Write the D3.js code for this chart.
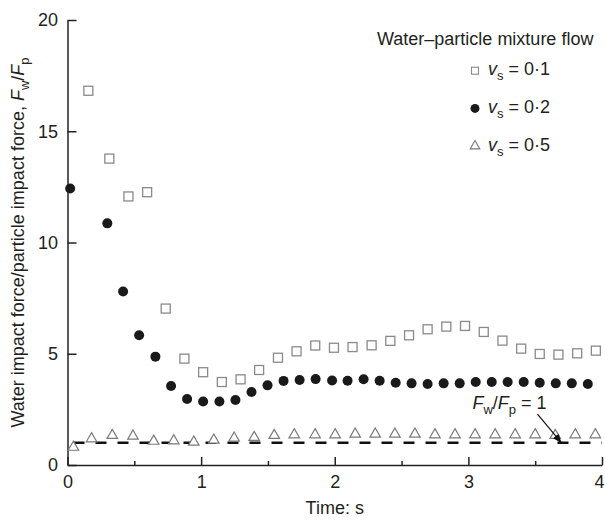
<!DOCTYPE html>
<html>
<head>
<meta charset="utf-8">
<script src="https://cdn.jsdelivr.net/npm/d3@7"></script>
<style>
  body { margin: 0; background: #fff; }
  text { font-family: "Liberation Sans", Arial, sans-serif; fill: #231f20; }
</style>
</head>
<body>
<div id="vis"></div>
<script>
// valores
const tiempoCuadrados = [0.156, 0.313, 0.456, 0.596, 0.735, 0.875, 1.015, 1.155, 1.295, 1.434, 1.575, 1.714, 1.854, 1.994,
  2.133, 2.276, 2.416, 2.556, 2.695, 2.835, 2.975, 3.115, 3.255, 3.395, 3.534, 3.674, 3.814, 3.954];
const valoresCuadrados = [16.82, 13.77, 12.07, 12.26, 7.03, 4.78, 4.17, 3.73, 3.85, 4.27, 4.82, 5.11, 5.37, 5.27,
  5.30, 5.38, 5.58, 5.83, 6.10, 6.22, 6.25, 5.98, 5.59, 5.23, 4.99, 4.96, 5.02, 5.14];

const tiempoCirculos = [0.02, 0.298, 0.416, 0.536, 0.658, 0.775, 0.895, 1.015, 1.137, 1.257, 1.377, 1.497, 1.617, 1.737,
  1.857, 1.98, 2.096, 2.216, 2.336, 2.456, 2.575, 2.695, 2.815, 2.935, 3.055, 3.175, 3.294, 3.414, 3.534, 3.654, 3.774, 3.894];
const valoresCirculos = [12.43, 10.86, 7.8, 5.83, 4.87, 3.55, 2.97, 2.85, 2.85, 2.92, 3.28, 3.58, 3.78, 3.82,
  3.86, 3.8, 3.79, 3.85, 3.79, 3.7, 3.67, 3.64, 3.67, 3.67, 3.73, 3.73, 3.73, 3.73, 3.7, 3.67, 3.67, 3.64];

const tiempoTriangulos = [0.044, 0.18, 0.335, 0.49, 0.645, 0.795, 0.945, 1.095, 1.247, 1.397, 1.547, 1.697, 1.853, 2.003,
  2.153, 2.303, 2.45, 2.6, 2.75, 2.9, 3.05, 3.2, 3.35, 3.5, 3.65, 3.8, 3.95];
const valoresTriangulos = [0.8, 1.18, 1.33, 1.3, 1.07, 1.09, 1.03, 1.12, 1.21, 1.24, 1.33, 1.36, 1.36, 1.36,
  1.39, 1.39, 1.39, 1.39, 1.36, 1.36, 1.36, 1.36, 1.36, 1.36, 1.33, 1.36, 1.36];

const ticksX = [0, 1, 2, 3, 4];
const ticksXMenores = [0.5, 1.5, 2.5, 3.5];
const ticksY = [0, 5, 10, 15, 20];
const series = ["0·1", "0·2", "0·5"];
const lineaReferencia = 1;

const WIDTH_VIS = 605;
const HEIGHT_VIS = 525;
const MARGIN = { top: 20, bottom: 60, left: 67.5, right: 3 };
const WIDTH = WIDTH_VIS - MARGIN.left - MARGIN.right;
const HEIGHT = HEIGHT_VIS - MARGIN.top - MARGIN.bottom;

const SVG = d3.select("#vis").append("svg")
  .attr("width", WIDTH_VIS)
  .attr("height", HEIGHT_VIS);

const xScale = d3.scaleLinear().domain([0, 4]).range([0, WIDTH]);
const yScale = d3.scaleLinear().domain([0, 20]).range([HEIGHT, 0]);

const contenedor = SVG.append("g")
  .attr("transform", `translate(${MARGIN.left}, ${MARGIN.top})`);

// linea punteada F_w/F_p = 1
contenedor.append("line")
  .attr("x1", xScale(0))
  .attr("x2", xScale(4))
  .attr("y1", yScale(lineaReferencia))
  .attr("y2", yScale(lineaReferencia))
  .attr("stroke", "#111")
  .attr("stroke-width", 2.6)
  .attr("stroke-dasharray", "11,11")
  .attr("stroke-dashoffset", -6);

// ejes
const ejeX = contenedor.append("g")
  .attr("transform", `translate(0, ${HEIGHT})`)
  .call(d3.axisBottom(xScale).tickValues(ticksX).tickFormat(d3.format("d"))
    .tickSize(-8).tickPadding(10).tickSizeOuter(0));
contenedor.append("g")
  .attr("transform", `translate(0, ${HEIGHT})`)
  .call(d3.axisBottom(xScale).tickValues(ticksXMenores).tickSize(-4).tickFormat("").tickSizeOuter(0))
  .select(".domain").remove();
const ejeY = contenedor.append("g")
  .call(d3.axisLeft(yScale).tickValues(ticksY).tickFormat(d3.format("d"))
    .tickSize(-9).tickPadding(9.5).tickSizeOuter(0));

// el ultimo "4" queda pegado al borde
ejeX.selectAll(".tick text").filter(d => d === 4).attr("dx", -3);

SVG.selectAll(".domain, .tick line").attr("stroke", "#222").attr("stroke-width", 1.5);
SVG.selectAll(".tick text").attr("font-size", 18).attr("fill", "#231f20")
  .style("font-family", '"Liberation Sans", Arial, sans-serif');

// puntos
const datosCuadrados = tiempoCuadrados.map((t, i) => ({ t, v: valoresCuadrados[i] }));
const datosCirculos = tiempoCirculos.map((t, i) => ({ t, v: valoresCirculos[i] }));
const datosTriangulos = tiempoTriangulos.map((t, i) => ({ t, v: valoresTriangulos[i] }));

contenedor.selectAll("rect.cuadrado")
  .data(datosCuadrados)
  .join("rect")
  .attr("class", "cuadrado")
  .attr("x", d => xScale(d.t) - 4.5)
  .attr("y", d => yScale(d.v) - 4.5)
  .attr("width", 9)
  .attr("height", 9)
  .attr("fill", "white")
  .attr("stroke", "#8a8a8a")
  .attr("stroke-width", 1.3);

contenedor.selectAll("circle.circulo")
  .data(datosCirculos)
  .join("circle")
  .attr("class", "circulo")
  .attr("cx", d => xScale(d.t))
  .attr("cy", d => yScale(d.v))
  .attr("r", 5)
  .attr("fill", "#1a1a1a");

const simboloTriangulo = d3.symbol().type(d3.symbolTriangle).size(48);
contenedor.selectAll("path.triangulo")
  .data(datosTriangulos)
  .join("path")
  .attr("class", "triangulo")
  .attr("d", simboloTriangulo)
  .attr("transform", d => `translate(${xScale(d.t)}, ${yScale(d.v)})`)
  .attr("fill", "white")
  .attr("stroke", "#7a7a7a")
  .attr("stroke-width", 1.2);

// anotacion con flecha
SVG.append("defs").append("marker")
  .attr("id", "flecha")
  .attr("viewBox", "0 0 10 10")
  .attr("refX", 10)
  .attr("refY", 5)
  .attr("markerWidth", 9)
  .attr("markerHeight", 9)
  .attr("markerUnits", "userSpaceOnUse")
  .attr("orient", "auto")
  .append("path")
  .attr("d", "M0,1 L10,5 L0,9 Z")
  .attr("fill", "#111");

contenedor.append("line")
  .attr("x1", xScale(3.517))
  .attr("y1", yScale(2.29))
  .attr("x2", xScale(3.697))
  .attr("y2", yScale(0.99))
  .attr("stroke", "#111")
  .attr("stroke-width", 1.2)
  .attr("marker-end", "url(#flecha)");

const anotacion = contenedor.append("text")
  .attr("x", xScale(3.03))
  .attr("y", yScale(2.52))
  .attr("font-size", 18);
anotacion.append("tspan").attr("font-style", "italic").text("F");
anotacion.append("tspan").attr("font-size", 13).attr("dy", 5).text("w");
anotacion.append("tspan").attr("dy", -5).text("/");
anotacion.append("tspan").attr("font-style", "italic").text("F");
anotacion.append("tspan").attr("font-size", 13).attr("dy", 5).text("p");
anotacion.append("tspan").attr("dy", -5).text(" = 1");

// titulos de ejes
SVG.append("text")
  .text("Time: s")
  .attr("x", MARGIN.left + WIDTH / 2)
  .attr("y", 514)
  .attr("text-anchor", "middle")
  .attr("font-size", 18);

const tituloY = SVG.append("text")
  .attr("text-anchor", "middle")
  .attr("transform", "rotate(270)")
  .attr("x", -(MARGIN.top + HEIGHT / 2))
  .attr("y", 24)
  .attr("font-size", 18);
tituloY.append("tspan").text("Water impact force/particle impact force, ");
tituloY.append("tspan").attr("font-style", "italic").text("F");
tituloY.append("tspan").attr("font-size", 13).attr("dy", 5).text("w");
tituloY.append("tspan").attr("dy", -5).text("/");
tituloY.append("tspan").attr("font-style", "italic").text("F");
tituloY.append("tspan").attr("font-size", 13).attr("dy", 5).text("p");

// leyenda
const leyenda = SVG.append("g").attr("class", "legend");
leyenda.append("text")
  .attr("x", 377)
  .attr("y", 45)
  .attr("font-size", 18)
  .text("Water\u2013particle mixture flow");

leyenda.selectAll("g.item")
  .data(series)
  .join("g")
  .attr("class", "item")
  .attr("transform", (d, i) => `translate(475, ${70.7 + i * 37.7})`)
  .each(function(d, i) {
    const g = d3.select(this);
    if (i === 0) {
      g.append("rect").attr("x", -3.5).attr("y", -3.5).attr("width", 7).attr("height", 7)
        .attr("fill", "white").attr("stroke", "#8a8a8a").attr("stroke-width", 1.1);
    } else if (i === 1) {
      g.append("circle").attr("r", 4.5).attr("fill", "#1a1a1a");
    } else {
      g.append("path").attr("d", d3.symbol().type(d3.symbolTriangle).size(40))
        .attr("fill", "white").attr("stroke", "#7a7a7a").attr("stroke-width", 1.1);
    }
    const t = g.append("text").attr("x", 13).attr("y", 4.5).attr("font-size", 18);
    t.append("tspan").attr("font-style", "italic").text("v");
    t.append("tspan").attr("font-size", 13).attr("dy", 5).text("s");
    t.append("tspan").attr("dy", -5).text(" = " + d);
  });
</script>
</body>
</html>
